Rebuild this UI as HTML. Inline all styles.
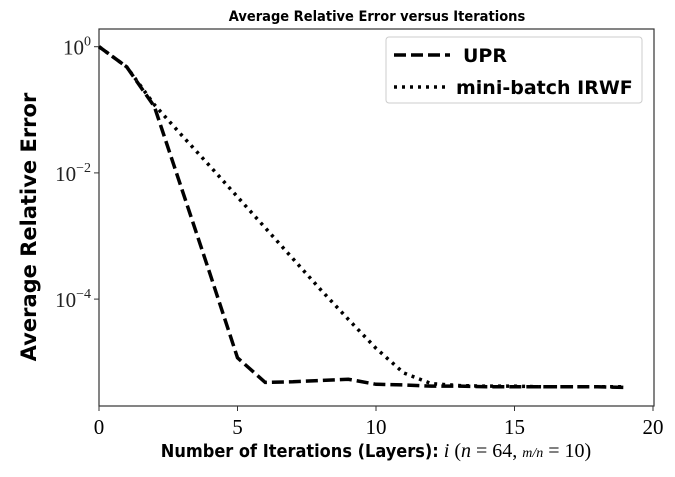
<!DOCTYPE html>
<html><head><meta charset="utf-8"><style>
html,body{margin:0;padding:0;background:#fff;}
svg{display:block;font-family:"Liberation Sans","DejaVu Sans",sans-serif;}
</style></head><body>
<svg id="chart" width="675" height="477" viewBox="0 0 675 477">
<text x="377" y="21" text-anchor="middle" font-size="14.5" font-weight="bold" font-family="DejaVu Sans Condensed, DejaVu Sans, sans-serif">Average Relative Error versus Iterations</text>
<rect x="99" y="29" width="555" height="377" fill="none" stroke="#333" stroke-width="1.2"/>
<g id="xticks"></g>
<g id="yticks"></g>
<g id="series"></g>
<text transform="translate(36,227) rotate(-90)" text-anchor="middle" font-size="21" font-weight="bold" font-family="DejaVu Sans, sans-serif">Average Relative Error</text>
<text x="376" y="457" text-anchor="middle" font-size="18"><tspan font-weight="bold" font-family="DejaVu Sans Condensed, DejaVu Sans, sans-serif">Number of Iterations (Layers):</tspan><tspan font-family="Liberation Serif, serif" font-style="italic" font-size="20"> i</tspan><tspan font-family="Liberation Serif, serif" font-size="20"> (</tspan><tspan font-family="Liberation Serif, serif" font-style="italic" font-size="20">n</tspan><tspan font-family="Liberation Serif, serif" font-size="20"> = 64, </tspan><tspan font-family="Liberation Serif, serif" font-style="italic" font-size="14">m/n</tspan><tspan font-family="Liberation Serif, serif" font-size="20"> = 10)</tspan></text>
<g>
<rect x="386" y="37" width="256" height="66" rx="3" fill="#fff" stroke="#ccc"/>
<line x1="394" y1="55" x2="450" y2="55" stroke="#000" stroke-width="3.5" stroke-dasharray="12,5"/>
<text x="463" y="62" font-size="19" font-weight="bold" font-family="DejaVu Sans, sans-serif">UPR</text>
<line x1="394" y1="87" x2="450" y2="87" stroke="#000" stroke-width="3.5" stroke-dasharray="3,5"/>
<text x="456" y="94" font-size="19" font-weight="bold" font-family="DejaVu Sans, sans-serif">mini-batch IRWF</text>
</g>
</svg>
<script>
const iterations = [0,1,2,3,4,5,6,7,8,9,10,11,12,13,14,15,16,17,18,19];
const uprLog10 = [0,-0.32,-0.95,-2.27,-3.59,-4.93,-5.32,-5.31,-5.29,-5.27,-5.35,-5.36,-5.38,-5.38,-5.39,-5.39,-5.39,-5.39,-5.39,-5.4];
const irwfLog10 = [0,-0.32,-0.92,-1.41,-1.89,-2.38,-2.87,-3.36,-3.85,-4.32,-4.78,-5.17,-5.34,-5.37,-5.38,-5.38,-5.39,-5.39,-5.39,-5.39];
const xTicks = [0,5,10,15,20];
const yTickExps = [0,-2,-4];
const NS="http://www.w3.org/2000/svg";
function xs(v){return 99+v*(554/20);}
function ys(l){return 46.7-l*63.1;}
const xg=document.getElementById('xticks'), yg=document.getElementById('yticks'), sg=document.getElementById('series');
xTicks.forEach(t=>{
  const l=document.createElementNS(NS,'line');
  l.setAttribute('x1',xs(t));l.setAttribute('x2',xs(t));l.setAttribute('y1',406);l.setAttribute('y2',411);l.setAttribute('stroke','#333');
  
  
  xg.appendChild(l);
  const tx=document.createElementNS(NS,'text');
  tx.setAttribute('x',xs(t));tx.setAttribute('y',434);tx.setAttribute('text-anchor','middle');
  tx.setAttribute('font-size','21');tx.setAttribute('font-family','Liberation Serif, serif');
  tx.textContent=t;
  
  
  xg.appendChild(tx);
});
yTickExps.forEach(e=>{
  const y=ys(e);
  const l=document.createElementNS(NS,'line');
  l.setAttribute('x1',94);l.setAttribute('x2',99);l.setAttribute('y1',y);l.setAttribute('y2',y);l.setAttribute('stroke','#333');
  
  
  yg.appendChild(l);
  const tx=document.createElementNS(NS,'text');
  tx.setAttribute('x',91);tx.setAttribute('y',y+8);tx.setAttribute('text-anchor','end');
  tx.setAttribute('font-family','Liberation Serif, serif');tx.setAttribute('font-size','21');tx.setAttribute('fill','#222');
  tx.innerHTML='10<tspan dy="-9" font-size="14">'+(e===0?'0':'\u2212'+(-e))+'</tspan>';
  
  
  yg.appendChild(tx);
});
function draw(vals,dash,name){
  const p=document.createElementNS(NS,'polyline');
  p.setAttribute('points',iterations.map((x,i)=>xs(x)+','+ys(vals[i])).join(' '));
  p.setAttribute('fill','none');p.setAttribute('stroke','#000');p.setAttribute('stroke-width','3.5');
  p.setAttribute('stroke-dasharray',dash);
  
  
  sg.appendChild(p);
}
draw(irwfLog10,'3,5','irwf-line');
draw(uprLog10,'12,5','upr-line');
</script>
</body></html>
